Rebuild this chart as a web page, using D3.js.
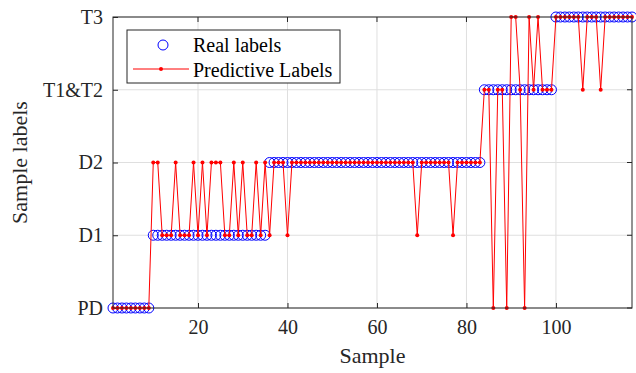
<!DOCTYPE html>
<html>
<head>
<meta charset="utf-8">
<script src="https://cdn.jsdelivr.net/npm/d3@7/dist/d3.min.js"></script>
<style>
  html, body { margin: 0; padding: 0; background: #fff; }
  svg text { font-family: "Liberation Serif", "Times New Roman", Times, "DejaVu Serif", serif; }
</style>
</head>
<body>
<svg id="chart" width="636" height="373"></svg>
<script>
// label categories, index 1..5 on the y axis
const categories = ["PD", "D1", "D2", "T1&T2", "T3"];
const xTicks = [20, 40, 60, 80, 100];

// real labels, sample 1..117 (category index)
const realLabels = [
  1,1,1,1,1,1,1,1,1,2,
  2,2,2,2,2,2,2,2,2,2,
  2,2,2,2,2,2,2,2,2,2,
  2,2,2,2,2,3,3,3,3,3,
  3,3,3,3,3,3,3,3,3,3,
  3,3,3,3,3,3,3,3,3,3,
  3,3,3,3,3,3,3,3,3,3,
  3,3,3,3,3,3,3,3,3,3,
  3,3,3,4,4,4,4,4,4,4,
  4,4,4,4,4,4,4,4,4,5,
  5,5,5,5,5,5,5,5,5,5,
  5,5,5,5,5,5,5
];

// predicted labels, sample 1..117
const predLabels = [
  1,1,1,1,1,1,1,1,1,3,
  3,2,2,2,3,2,2,2,3,2,
  3,2,3,3,3,2,2,3,2,3,
  2,2,3,2,3,2,3,3,3,2,
  3,3,3,3,3,3,3,3,3,3,
  3,3,3,3,3,3,3,3,3,3,
  3,3,3,3,3,3,3,3,2,3,
  3,3,3,3,3,3,2,3,3,3,
  3,3,3,4,4,1,4,4,1,5,
  5,4,1,5,4,5,4,4,4,5,
  5,5,5,5,5,4,5,5,5,4,
  5,5,5,5,5,5,5
];

const box = { left: 113, right: 632, top: 17, bottom: 308 };
const axisColor = "#262626";
const gridColor = "#dfdfdf";

const svg = d3.select("#chart");

const x = d3.scaleLinear().domain([1, realLabels.length]).range([box.left, box.right]);
const y = d3.scaleLinear().domain([1, categories.length]).range([box.bottom, box.top]);

const real = realLabels.map((v, i) => ({ s: i + 1, v }));
const pred = predLabels.map((v, i) => ({ s: i + 1, v }));

// grid
const grid = svg.append("g");
grid.selectAll(".gx").data(xTicks).enter().append("line")
  .attr("x1", d => x(d)).attr("x2", d => x(d))
  .attr("y1", box.top).attr("y2", box.bottom)
  .attr("stroke", gridColor).attr("stroke-width", 1);
grid.selectAll(".gy").data(d3.range(1, categories.length + 1)).enter().append("line")
  .attr("x1", box.left).attr("x2", box.right)
  .attr("y1", d => y(d)).attr("y2", d => y(d))
  .attr("stroke", gridColor).attr("stroke-width", 1);

// axes (ticks inward, like matlab)
const xAxis = d3.axisBottom(x).tickValues(xTicks).tickSizeInner(-5).tickSizeOuter(0).tickPadding(12);
const gx = svg.append("g").attr("transform", `translate(0,${box.bottom})`).call(xAxis);
const yAxis = d3.axisLeft(y).tickValues(d3.range(1, categories.length + 1))
  .tickFormat(d => categories[d - 1]).tickSizeInner(-5).tickSizeOuter(0).tickPadding(10);
const gy = svg.append("g").attr("transform", `translate(${box.left},0)`).call(yAxis);

[gx, gy].forEach(g => {
  g.attr("font-family", null);
  g.select(".domain").remove();
  g.selectAll(".tick line").attr("stroke", axisColor);
  g.selectAll(".tick text").attr("fill", axisColor).style("font-size", "20px");
});
gx.selectAll(".tick text").attr("dy", "0.71em");

// ticks on top/right sides
svg.append("g").selectAll("line").data(xTicks).enter().append("line")
  .attr("x1", d => x(d)).attr("x2", d => x(d))
  .attr("y1", box.top).attr("y2", box.top + 5).attr("stroke", axisColor);
svg.append("g").selectAll("line").data(d3.range(1, categories.length + 1)).enter().append("line")
  .attr("x1", box.right - 5).attr("x2", box.right)
  .attr("y1", d => y(d)).attr("y2", d => y(d)).attr("stroke", axisColor);

// real labels: blue circles
svg.append("g").selectAll("circle").data(real).enter().append("circle")
  .attr("cx", d => x(d.s)).attr("cy", d => y(d.v)).attr("r", 5)
  .attr("fill", "none").attr("stroke", "#0000ff").attr("stroke-width", 1);

// predicted labels: red line with dots
const line = d3.line().x(d => x(d.s)).y(d => y(d.v));
svg.append("path").datum(pred)
  .attr("d", line).attr("fill", "none").attr("stroke", "#ff0000").attr("stroke-width", 1);
svg.append("g").selectAll("circle").data(pred).enter().append("circle")
  .attr("cx", d => x(d.s)).attr("cy", d => y(d.v)).attr("r", 2)
  .attr("fill", "#ff0000");

// box
svg.append("rect")
  .attr("x", box.left).attr("y", box.top)
  .attr("width", box.right - box.left).attr("height", box.bottom - box.top)
  .attr("fill", "none").attr("stroke", axisColor).attr("stroke-width", 1);

// axis titles
svg.append("text").attr("x", (box.left + box.right) / 2).attr("y", 363)
  .attr("text-anchor", "middle").attr("fill", axisColor)
  .style("font-size", "22px").text("Sample");
svg.append("text").attr("transform", `translate(27,${(box.top + box.bottom) / 2}) rotate(-90)`)
  .attr("text-anchor", "middle").attr("fill", axisColor)
  .style("font-size", "22px").text("Sample labels");

// legend
const lg = svg.append("g");
lg.append("rect").attr("x", 127).attr("y", 30).attr("width", 213).attr("height", 53)
  .attr("fill", "#fff").attr("stroke", axisColor).attr("stroke-width", 1);
lg.append("circle").attr("cx", 163).attr("cy", 45).attr("r", 5)
  .attr("fill", "none").attr("stroke", "#0000ff");
lg.append("line").attr("x1", 133).attr("x2", 189).attr("y1", 69).attr("y2", 69)
  .attr("stroke", "#ff0000");
lg.append("circle").attr("cx", 161).attr("cy", 69).attr("r", 2).attr("fill", "#ff0000");
lg.append("text").attr("x", 193).attr("y", 52).attr("fill", "#000")
  .style("font-size", "20px").text("Real labels");
lg.append("text").attr("x", 193).attr("y", 77).attr("fill", "#000")
  .style("font-size", "20px").text("Predictive Labels");
</script>
</body>
</html>
